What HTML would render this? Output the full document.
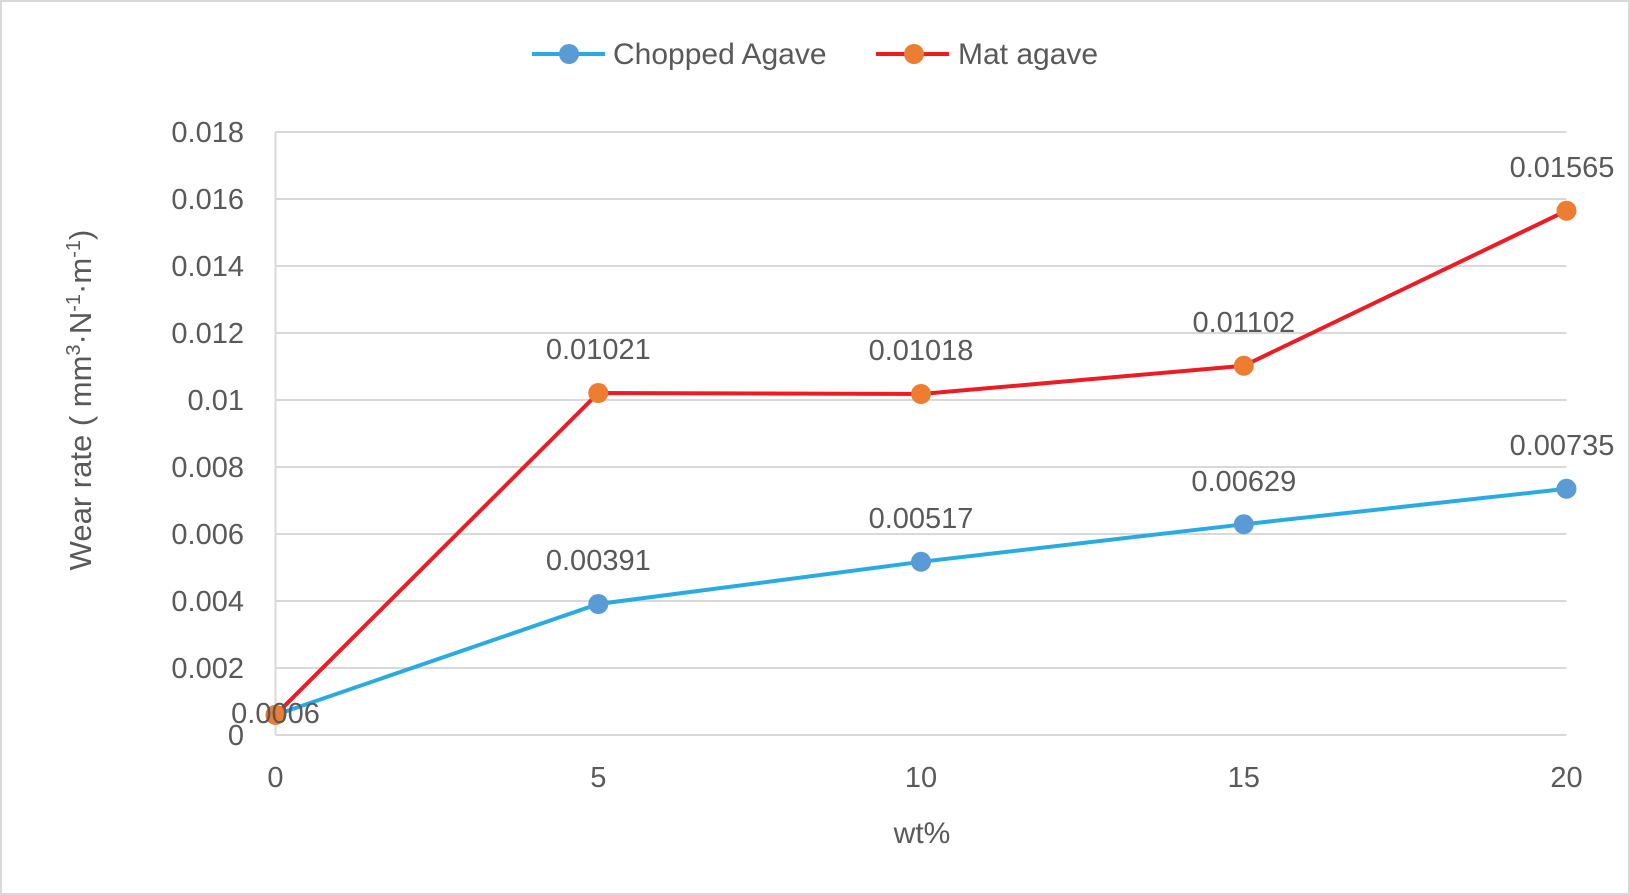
<!DOCTYPE html>
<html><head><style>
body{margin:0;background:#fff}
svg{display:block}
text{font-family:"Liberation Sans",sans-serif;fill:#595959}
</style></head><body>
<svg width="1630" height="895" viewBox="0 0 1630 895">
<rect x="1" y="1" width="1628" height="893" fill="#fff" stroke="#d9d9d9" stroke-width="2"/>
<g stroke="#d9d9d9" stroke-width="2">
<line x1="275.5" y1="132" x2="1566.5" y2="132"/>
<line x1="275.5" y1="199" x2="1566.5" y2="199"/>
<line x1="275.5" y1="266" x2="1566.5" y2="266"/>
<line x1="275.5" y1="333" x2="1566.5" y2="333"/>
<line x1="275.5" y1="400" x2="1566.5" y2="400"/>
<line x1="275.5" y1="467" x2="1566.5" y2="467"/>
<line x1="275.5" y1="534" x2="1566.5" y2="534"/>
<line x1="275.5" y1="601" x2="1566.5" y2="601"/>
<line x1="275.5" y1="668" x2="1566.5" y2="668"/>
<line x1="275.5" y1="735" x2="1566.5" y2="735"/>
<line x1="275.5" y1="132" x2="275.5" y2="735"/>
</g>
<g font-size="29" text-anchor="end">
<text x="244" y="142">0.018</text>
<text x="244" y="209">0.016</text>
<text x="244" y="276">0.014</text>
<text x="244" y="343">0.012</text>
<text x="244" y="410">0.01</text>
<text x="244" y="477">0.008</text>
<text x="244" y="544">0.006</text>
<text x="244" y="611">0.004</text>
<text x="244" y="678">0.002</text>
<text x="244" y="745">0</text>
</g>
<g font-size="29" text-anchor="middle">
<text x="275.5" y="787">0</text>
<text x="598.3" y="787">5</text>
<text x="921" y="787">10</text>
<text x="1243.8" y="787">15</text>
<text x="1566.5" y="787">20</text>
<text x="922" y="843" font-size="30">wt%</text>
</g>
<text transform="translate(91,400) rotate(-90)" font-size="31" text-anchor="middle">Wear rate ( mm<tspan font-size="20" dy="-11">3</tspan><tspan dy="11">·N</tspan><tspan font-size="20" dy="-11">-1</tspan><tspan dy="11">·m</tspan><tspan font-size="20" dy="-11">-1</tspan><tspan dy="11">)</tspan></text>
<polyline fill="none" stroke="#29abe2" stroke-width="4" points="275.5,714.9 598.3,604 921,561.8 1243.8,524.3 1566.5,488.8"/>
<polyline fill="none" stroke="#ed1c24" stroke-width="4" points="275.5,714.9 598.3,393 921,394 1243.8,365.8 1566.5,210.7"/>
<g fill="#5b9bd5">
<circle cx="275.5" cy="714.9" r="10"/><circle cx="598.3" cy="604" r="10"/><circle cx="921" cy="561.8" r="10"/><circle cx="1243.8" cy="524.3" r="10"/><circle cx="1566.5" cy="488.8" r="10"/>
</g>
<g fill="#ed7d31">
<circle cx="275.5" cy="714.9" r="10"/><circle cx="598.3" cy="393" r="10"/><circle cx="921" cy="394" r="10"/><circle cx="1243.8" cy="365.8" r="10"/><circle cx="1566.5" cy="210.7" r="10"/>
</g>
<g font-size="29" text-anchor="middle">
<text x="598.3" y="570">0.00391</text>
<text x="921" y="528">0.00517</text>
<text x="1243.8" y="491">0.00629</text>
<text x="1562" y="455">0.00735</text>
<text x="598.3" y="359">0.01021</text>
<text x="921" y="360">0.01018</text>
<text x="1243.8" y="332">0.01102</text>
<text x="1562" y="177">0.01565</text>
<text x="275.5" y="723">0.0006</text>
</g>
<line x1="532" y1="54" x2="605" y2="54" stroke="#29abe2" stroke-width="4"/>
<circle cx="569" cy="54" r="10" fill="#5b9bd5"/>
<text x="613" y="64" font-size="30">Chopped Agave</text>
<line x1="876" y1="54" x2="949" y2="54" stroke="#ed1c24" stroke-width="4"/>
<circle cx="914" cy="54" r="10" fill="#ed7d31"/>
<text x="958" y="64" font-size="30">Mat agave</text>
</svg>
</body></html>
